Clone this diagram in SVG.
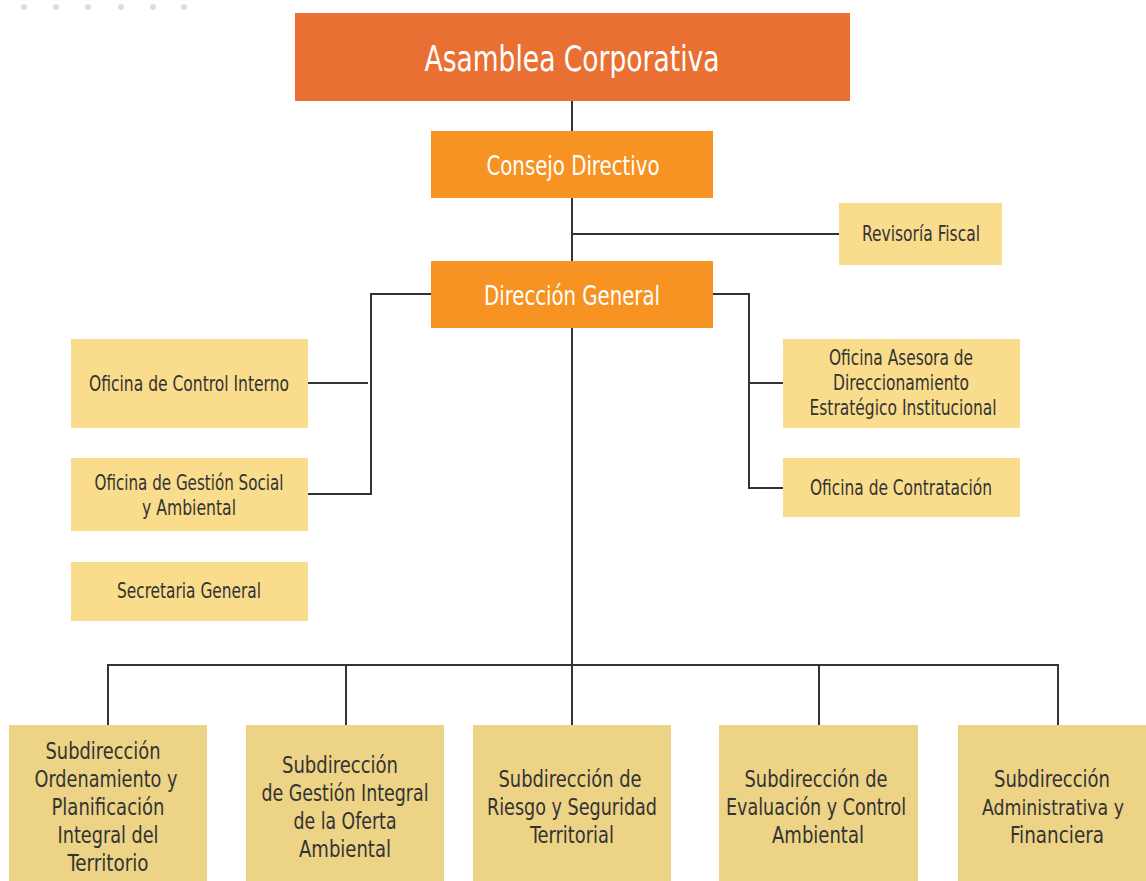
<svg xmlns="http://www.w3.org/2000/svg" width="1146" height="881" viewBox="0 0 1146 881">
<style>
text{font-family:"Liberation Sans Narrow","DejaVu Sans Condensed","Roboto Condensed",sans-serif;text-anchor:middle;}
.t1{fill:#fff;font-size:36px;}
.t2{fill:#fff;font-size:27px;}
.t3{fill:#333;font-size:21px;}
.t4{fill:#333;font-size:23px;}
.c1{fill:#EA6F33;}
.c2{fill:#F69322;}
.c3{fill:#F9DD8C;}
.c4{fill:#EDD385;}
.ln{fill:none;stroke:#333;stroke-width:2;}
.dot{fill:#DDDDDD;}
</style>
<rect width="1146" height="881" fill="#fff"/>
<g id="dots">
<circle class="dot" cx="24" cy="7" r="3"/><circle class="dot" cx="56" cy="7" r="3"/><circle class="dot" cx="88" cy="7" r="3"/><circle class="dot" cx="121" cy="7" r="3"/><circle class="dot" cx="153" cy="7" r="3"/><circle class="dot" cx="184" cy="7" r="3"/>
</g>
<g id="connectors">
<path class="ln" d="M572 101V131M572 198V261M572 234H839"/>
<path class="ln" d="M431 294H371V494H308M308 383H368"/>
<path class="ln" d="M713 294H749V488H783M749 383H783"/>
<path class="ln" d="M572 328V665M108 725V665H1058V725M346 665V725M572 665V725M819 665V725"/>
</g>
<g id="asamblea"><rect class="c1" x="295" y="13" width="555" height="88"/><text class="t1" x="572" y="71" textLength="295" lengthAdjust="spacingAndGlyphs">Asamblea Corporativa</text></g>
<g id="consejo"><rect class="c2" x="431" y="131" width="282" height="67"/><text class="t2" x="573" y="175" textLength="173" lengthAdjust="spacingAndGlyphs">Consejo Directivo</text></g>
<g id="revisoria"><rect class="c3" x="839" y="203" width="163" height="62"/><text class="t3" x="921" y="241" textLength="118" lengthAdjust="spacingAndGlyphs">Revisoría Fiscal</text></g>
<g id="direccion"><rect class="c2" x="431" y="261" width="282" height="67"/><text class="t2" x="572" y="305" textLength="176" lengthAdjust="spacingAndGlyphs">Dirección General</text></g>
<g id="control"><rect class="c3" x="71" y="339" width="237" height="89"/><text class="t3" x="189" y="391" textLength="200" lengthAdjust="spacingAndGlyphs">Oficina de Control Interno</text></g>
<g id="gestion"><rect class="c3" x="71" y="458" width="237" height="73"/><text class="t3" x="189" y="490" textLength="189" lengthAdjust="spacingAndGlyphs">Oficina de Gestión Social</text><text class="t3" x="189" y="515" textLength="94" lengthAdjust="spacingAndGlyphs">y Ambiental</text></g>
<g id="secretaria"><rect class="c3" x="71" y="562" width="237" height="59"/><text class="t3" x="189" y="598" textLength="144" lengthAdjust="spacingAndGlyphs">Secretaria General</text></g>
<g id="asesora"><rect class="c3" x="783" y="339" width="237" height="89"/><text class="t3" x="901" y="365" textLength="144" lengthAdjust="spacingAndGlyphs">Oficina Asesora de</text><text class="t3" x="901" y="390" textLength="136" lengthAdjust="spacingAndGlyphs">Direccionamiento</text><text class="t3" x="903" y="415" textLength="187" lengthAdjust="spacingAndGlyphs">Estratégico Institucional</text></g>
<g id="contratacion"><rect class="c3" x="783" y="458" width="237" height="59"/><text class="t3" x="901" y="495" textLength="182" lengthAdjust="spacingAndGlyphs">Oficina de Contratación</text></g>
<g id="sub1"><rect class="c4" x="9" y="725" width="198" height="156"/><text class="t4" x="103" y="759" textLength="115" lengthAdjust="spacingAndGlyphs">Subdirección</text><text class="t4" x="106" y="787" textLength="143" lengthAdjust="spacingAndGlyphs">Ordenamiento y</text><text class="t4" x="108" y="815" textLength="113" lengthAdjust="spacingAndGlyphs">Planificación</text><text class="t4" x="108" y="843" textLength="101" lengthAdjust="spacingAndGlyphs">Integral del</text><text class="t4" x="108" y="871" textLength="81" lengthAdjust="spacingAndGlyphs">Territorio</text></g>
<g id="sub2"><rect class="c4" x="246" y="725" width="198" height="156"/><text class="t4" x="340" y="773" textLength="116" lengthAdjust="spacingAndGlyphs">Subdirección</text><text class="t4" x="345" y="801" textLength="167" lengthAdjust="spacingAndGlyphs">de Gestión Integral</text><text class="t4" x="345" y="829" textLength="103" lengthAdjust="spacingAndGlyphs">de la Oferta</text><text class="t4" x="345" y="857" textLength="92" lengthAdjust="spacingAndGlyphs">Ambiental</text></g>
<g id="sub3"><rect class="c4" x="473" y="725" width="198" height="156"/><text class="t4" x="570" y="787" textLength="143" lengthAdjust="spacingAndGlyphs">Subdirección de</text><text class="t4" x="572" y="815" textLength="170" lengthAdjust="spacingAndGlyphs">Riesgo y Seguridad</text><text class="t4" x="572" y="843" textLength="84" lengthAdjust="spacingAndGlyphs">Territorial</text></g>
<g id="sub4"><rect class="c4" x="719" y="725" width="199" height="156"/><text class="t4" x="816" y="787" textLength="143" lengthAdjust="spacingAndGlyphs">Subdirección de</text><text class="t4" x="816" y="815" textLength="180" lengthAdjust="spacingAndGlyphs">Evaluación y Control</text><text class="t4" x="818" y="843" textLength="92" lengthAdjust="spacingAndGlyphs">Ambiental</text></g>
<g id="sub5"><rect class="c4" x="958" y="725" width="188" height="156"/><text class="t4" x="1052" y="787" textLength="116" lengthAdjust="spacingAndGlyphs">Subdirección</text><text class="t4" x="1053" y="815" textLength="142" lengthAdjust="spacingAndGlyphs" style="font-size:21px">Administrativa y</text><text class="t4" x="1057" y="843" textLength="94" lengthAdjust="spacingAndGlyphs">Financiera</text></g>
</svg>
